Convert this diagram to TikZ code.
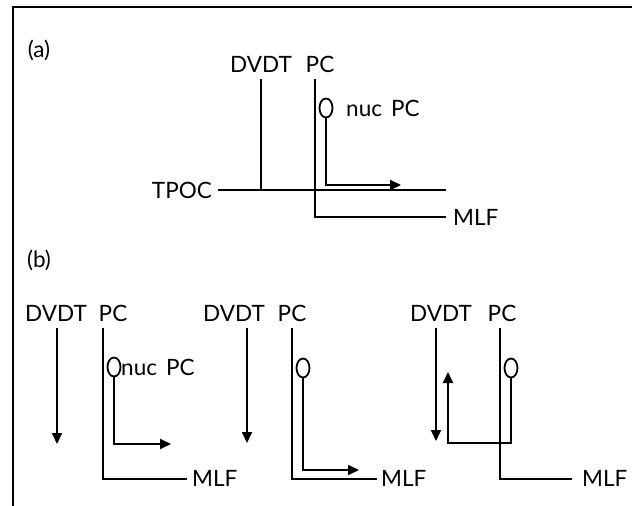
\documentclass[tikz,border=0pt]{standalone}
\usepackage{fontspec}
\setmainfont{Lato}
\usetikzlibrary{arrows.meta,shapes.geometric}
\begin{document}
\begin{tikzpicture}[x=1pt,y=-1pt,
  lbl/.style={inner sep=0pt, font=\fontsize{22.5}{26}\selectfont},
  ln/.style={line width=1.9pt},
  arr/.style={line width=1.9pt, -{Triangle[length=11pt,width=10pt]}},
  nucl/.style={draw, ellipse, line width=1.8pt, minimum width=13pt, minimum height=19pt, inner sep=0pt}]
\useasboundingbox (0,0) rectangle (632,506);
% frame
\draw[line width=2pt] (13,510) -- (13,7) -- (640,7);

% ---------------- (a)
\node[lbl] (la) at (39,50) {(a)};
\node[lbl] (adv) at (261,64) {DVDT};
\node[lbl] (apc) at (320,64) {PC};
\node[lbl,anchor=east] (atpoc) at (212,190) {TPOC};
\node[lbl,anchor=west] (amlf) at (453,217) {MLF};
\node[nucl] (anuc) at (326,108) {};
\node[lbl,anchor=west] (anuct) at (346,108) {nuc\hspace{9pt}PC};
\coordinate (adv1) at (261,79);
\coordinate (adv2) at (261,190);
\coordinate (apc1) at (315,79);
\coordinate (apc2) at (315,217);
\coordinate (amlfe) at (446,217);
\coordinate (at1) at (218,190);
\coordinate (at2) at (446,190);
\coordinate (ak) at (326,185);
\coordinate (aend) at (401,185);
\draw[ln] (at1) -- (at2);
\draw[ln] (adv1) -- (adv2);
\draw[ln] (apc1) -- (apc2) -- (amlfe);
\draw[arr] (anuc.south) -- (ak) -- (aend);

% ---------------- (b)
\node[lbl] (lb) at (39,260) {(b)};

% panel 1
\node[lbl] (b1dv) at (56,313) {DVDT};
\node[lbl] (b1pc) at (113,313) {PC};
\node[lbl,anchor=west] (b1mlf) at (192,478) {MLF};
\node[nucl] (b1nuc) at (114,367) {};
\node[lbl,anchor=west] (b1nuct) at (121,367) {nuc\hspace{9pt}PC};
\coordinate (b1a1) at (57,328);
\coordinate (b1a2) at (57,444);
\coordinate (b1p1) at (103,328);
\coordinate (b1p2) at (103,479);
\coordinate (b1p3) at (187,479);
\coordinate (b1k) at (114,444);
\coordinate (b1e) at (171,444);
\draw[arr] (b1a1) -- (b1a2);
\draw[ln] (b1p1) -- (b1p2) -- (b1p3);
\draw[arr] (b1nuc.south) -- (b1k) -- (b1e);

% panel 2
\node[lbl] (b2dv) at (234,313) {DVDT};
\node[lbl] (b2pc) at (292,313) {PC};
\node[lbl,anchor=west] (b2mlf) at (381,478) {MLF};
\node[nucl] (b2nuc) at (303,368) {};
\coordinate (b2a1) at (247,328);
\coordinate (b2a2) at (247,443);
\coordinate (b2p1) at (292,328);
\coordinate (b2p2) at (292,479);
\coordinate (b2p3) at (377,479);
\coordinate (b2k) at (303,470);
\coordinate (b2e) at (359,470);
\draw[arr] (b2a1) -- (b2a2);
\draw[ln] (b2p1) -- (b2p2) -- (b2p3);
\draw[arr] (b2nuc.south) -- (b2k) -- (b2e);

% panel 3
\node[lbl] (b3dv) at (441,313) {DVDT};
\node[lbl] (b3pc) at (502,313) {PC};
\node[lbl,anchor=west] (b3mlf) at (582,478) {MLF};
\node[nucl] (b3nuc) at (511,368) {};
\coordinate (b3a1) at (436,328);
\coordinate (b3a2) at (436,441);
\coordinate (b3p1) at (500,328);
\coordinate (b3p2) at (500,479);
\coordinate (b3p3) at (572,479);
\coordinate (b3k1) at (511,443);
\coordinate (b3k2) at (448,443);
\coordinate (b3e) at (448,372);
\draw[arr] (b3a1) -- (b3a2);
\draw[ln] (b3p1) -- (b3p2) -- (b3p3);
\draw[arr] (b3nuc.south) -- (b3k1) -- (b3k2) -- (b3e);
\end{tikzpicture}
\end{document}
